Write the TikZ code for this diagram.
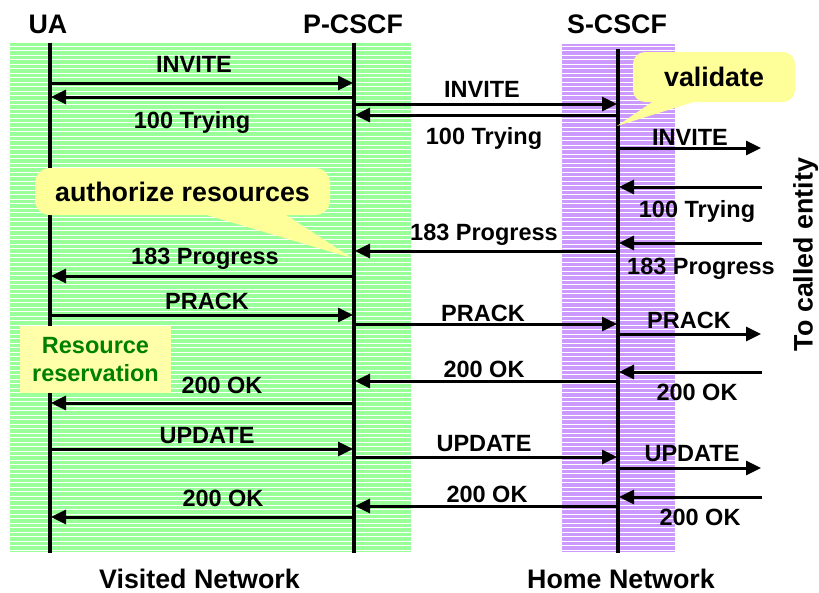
\documentclass[tikz,border=0pt]{standalone}
\usepackage{fontspec}
\setmainfont{Liberation Sans}
\usetikzlibrary{arrows.meta}
\definecolor{bandgreen}{RGB}{153,255,153}
\definecolor{bandpurple}{RGB}{204,153,255}
\definecolor{noteyellow}{RGB}{255,255,153}
\definecolor{resyellow}{RGB}{255,255,170}
\definecolor{resgreen}{RGB}{0,128,0}
\begin{document}
\begin{tikzpicture}[x=1pt,y=-1pt,line join=round,
    font=\fontsize{23.5}{28}\selectfont\bfseries,
    big/.style={font=\fontsize{26.8}{30}\selectfont\bfseries},
    life/.style={line width=3.5pt},
    msg/.style={line width=3pt,-{Triangle[length=15pt,width=14pt]},shorten >=1pt},
    lbl/.style={inner sep=0pt,text height=17pt,text depth=0pt},
    biglbl/.style={big,inner sep=0pt,text height=19pt,text depth=0pt},
    note/.style={big,fill=noteyellow,rounded corners=12pt,inner sep=0pt}]
  \fill[white] (0,0) rectangle (819,592);
  \useasboundingbox (0,0) rectangle (819,592);
  \fill[bandgreen] (10,43) rectangle (411,552);
  \fill[bandpurple] (562,44) rectangle (675,552);
  \foreach \k in {0,...,112} {
    \draw[white,line width=1pt] (10,46+4.5*\k) -- (411,46+4.5*\k);
    \draw[white,line width=1pt] (562,46+4.5*\k) -- (675,46+4.5*\k);
  }
  \node[biglbl] (uahead) at (48,24) {UA};
  \node[biglbl] (pchead) at (353,24) {P-CSCF};
  \node[biglbl] (schead) at (617,24) {S-CSCF};
  \coordinate (ua) at (50,0);
  \coordinate (pc) at (354,0);
  \coordinate (sc) at (618,0);
  \coordinate (ext) at (762,0);
  \coordinate (ua top) at (50,43);
  \coordinate (ua bot) at (50,553);
  \coordinate (pc top) at (354,43);
  \coordinate (pc bot) at (354,553);
  \coordinate (sc top) at (618,49);
  \coordinate (sc bot) at (618,553);
  \draw[life] (ua top) -- (ua bot);
  \draw[life] (pc top) -- (pc bot);
  \draw[life] (sc top) -- (sc bot);
  \foreach \a/\b/\y/\lx/\ly/\txt [count=\i] in {
      ua/pc/83/194/64/INVITE, pc/ua/97/192/120/100 Trying,
      pc/ua/276/205/256/183 Progress, ua/pc/315/207/301/PRACK,
      pc/ua/403/222/385/200 OK, ua/pc/449/207/435/UPDATE,
      pc/ua/517/223/498/200 OK,
      pc/sc/104/482/89/INVITE, sc/pc/115/484/136/100 Trying,
      sc/pc/251/484/232/183 Progress, pc/sc/324/483/313/PRACK,
      sc/pc/381/484/369/200 OK, pc/sc/457/484/443/UPDATE,
      sc/pc/506/487/494/200 OK,
      sc/ext/148/690/137/INVITE, ext/sc/187/697/209/100 Trying,
      ext/sc/243/701/266/183 Progress, sc/ext/334/689/320/PRACK,
      ext/sc/372/697/392/200 OK, sc/ext/468/692/453/UPDATE,
      ext/sc/497/700/517/200 OK} {
    \draw[msg] (\a |- 0,\y) -- (\b |- 0,\y);
    \node[lbl] (m\i) at (\lx,\ly) {\txt};
  }
  \fill[noteyellow] (655,100) -- (617,126) -- (700,100) -- cycle;
  \node[note,minimum width=162pt,minimum height=50pt] (validate) at (714,77) {validate};
  \fill[noteyellow] (200,213) -- (352,258) -- (283,213) -- cycle;
  \node[note,rounded corners=15pt,minimum width=295pt,minimum height=47pt] (authorize) at (182.5,191.5) {authorize resources};
  \node[fill=resyellow,text=resgreen,align=center,inner sep=0pt,minimum width=151pt,minimum height=67pt] (resv) at (95.5,359.5) {Resource\\reservation};
  \node[biglbl,rotate=90] (called) at (803,254.5) {To called entity};
  \node[biglbl] (visited) at (199.5,579) {Visited Network};
  \node[biglbl] (home) at (621,579) {Home Network};
\end{tikzpicture}
\end{document}
